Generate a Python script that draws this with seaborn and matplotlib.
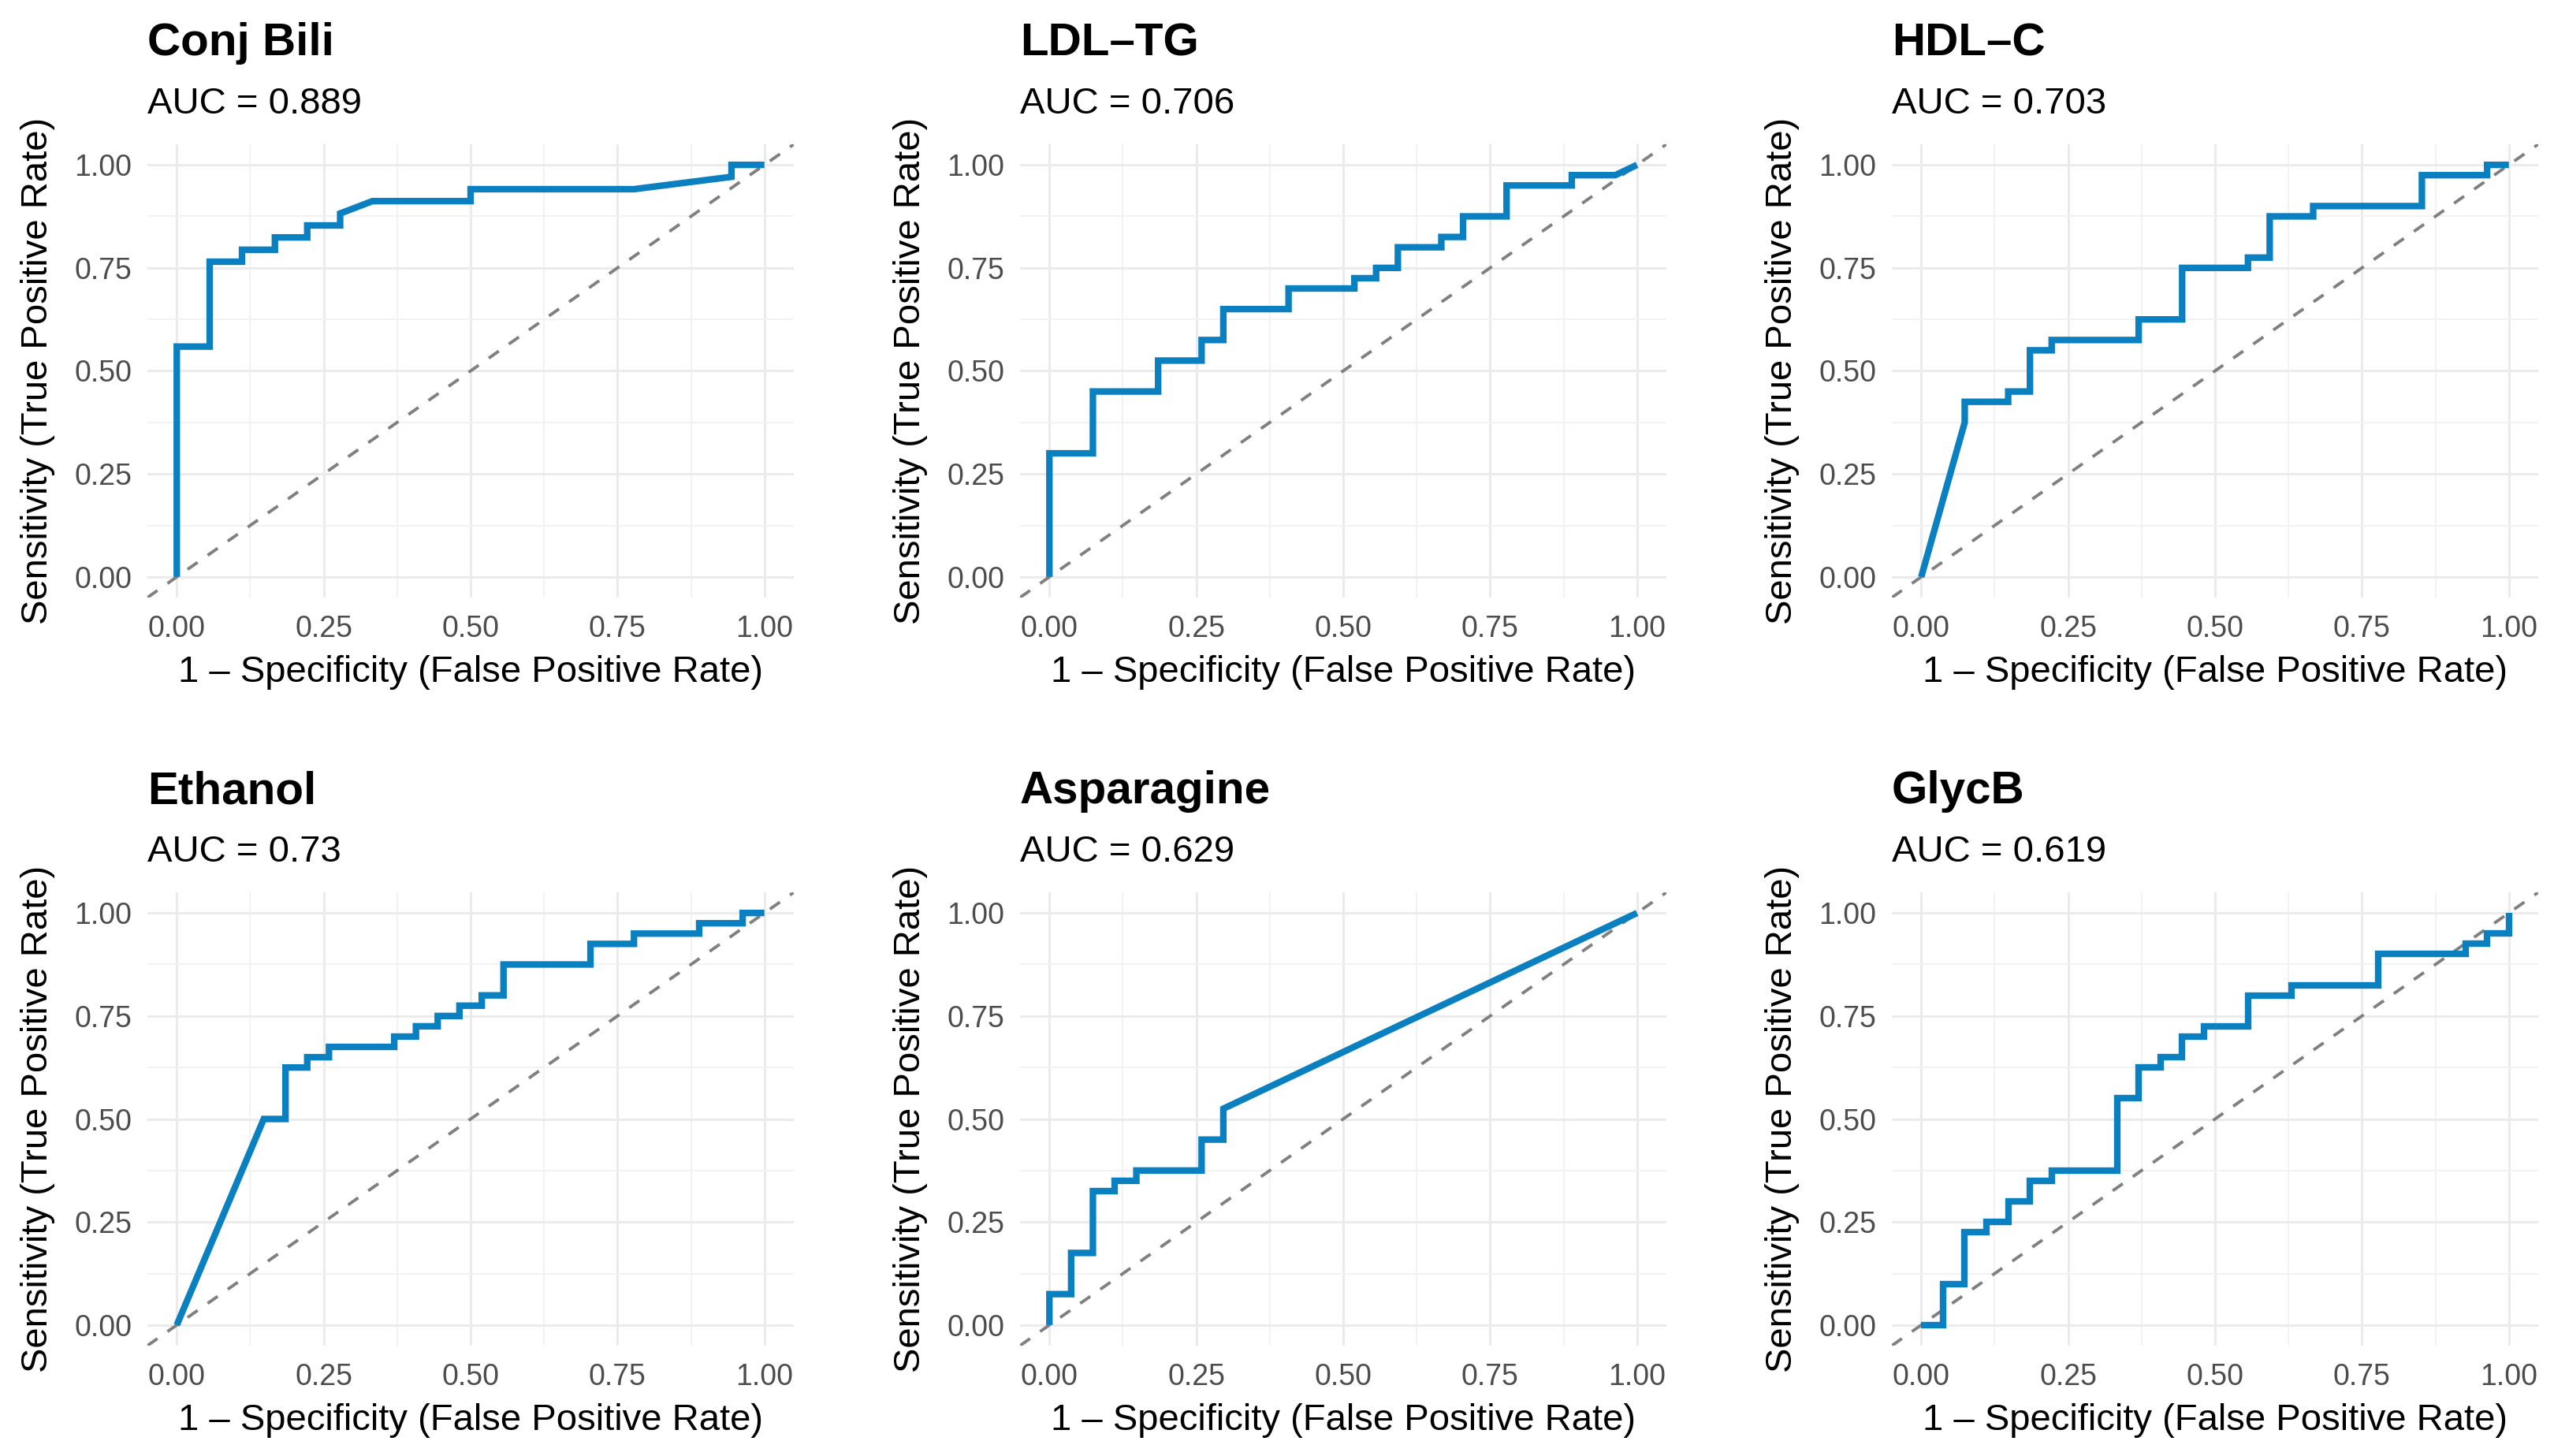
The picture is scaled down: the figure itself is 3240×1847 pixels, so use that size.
import matplotlib
matplotlib.use("Agg")
import matplotlib.pyplot as plt
import numpy as np
import pandas as pd
import seaborn as sns

# ROC curve vertices
conj_bili_fpr = [0, 0, 0.056, 0.056, 0.111, 0.111, 0.167, 0.167, 0.222, 0.222, 0.278, 0.278,
                 0.333, 0.5, 0.5, 0.778, 0.944, 0.944, 1.0]
conj_bili_tpr = [0, 0.559, 0.559, 0.765, 0.765, 0.794, 0.794, 0.824, 0.824, 0.853, 0.853, 0.882,
                 0.912, 0.912, 0.941, 0.941, 0.971, 1.0, 1.0]

ldl_tg_fpr = [0, 0, 0.074, 0.074, 0.185, 0.185, 0.259, 0.259, 0.296, 0.296, 0.407, 0.407, 0.519, 0.519,
              0.556, 0.556, 0.593, 0.593, 0.667, 0.667, 0.704, 0.704, 0.778, 0.778, 0.889, 0.889, 0.963, 1.0]
ldl_tg_tpr = [0, 0.3, 0.3, 0.45, 0.45, 0.525, 0.525, 0.575, 0.575, 0.65, 0.65, 0.7, 0.7, 0.725,
              0.725, 0.75, 0.75, 0.8, 0.8, 0.825, 0.825, 0.875, 0.875, 0.95, 0.95, 0.975, 0.975, 1.0]

hdl_c_fpr = [0, 0.074, 0.074, 0.148, 0.148, 0.185, 0.185, 0.222, 0.222, 0.370, 0.370, 0.444, 0.444,
             0.556, 0.556, 0.593, 0.593, 0.667, 0.667, 0.852, 0.852, 0.963, 0.963, 1.0]
hdl_c_tpr = [0, 0.375, 0.425, 0.425, 0.45, 0.45, 0.55, 0.55, 0.575, 0.575, 0.625, 0.625, 0.75,
             0.75, 0.775, 0.775, 0.875, 0.875, 0.9, 0.9, 0.975, 0.975, 1.0, 1.0]

ethanol_fpr = [0, 0.148, 0.185, 0.185, 0.222, 0.222, 0.259, 0.259, 0.370, 0.370, 0.407, 0.407, 0.444,
               0.444, 0.481, 0.481, 0.519, 0.519, 0.556, 0.556, 0.704, 0.704, 0.778, 0.778, 0.889,
               0.889, 0.963, 0.963, 1.0]
ethanol_tpr = [0, 0.5, 0.5, 0.625, 0.625, 0.65, 0.65, 0.675, 0.675, 0.7, 0.7, 0.725, 0.725,
               0.75, 0.75, 0.775, 0.775, 0.8, 0.8, 0.875, 0.875, 0.925, 0.925, 0.95, 0.95,
               0.975, 0.975, 1.0, 1.0]

asparagine_fpr = [0, 0, 0.037, 0.037, 0.074, 0.074, 0.111, 0.111, 0.148, 0.148, 0.259, 0.259,
                  0.296, 0.296, 1.0]
asparagine_tpr = [0, 0.075, 0.075, 0.175, 0.175, 0.325, 0.325, 0.35, 0.35, 0.375, 0.375, 0.45,
                  0.45, 0.525, 1.0]

glycb_fpr = [0, 0.037, 0.037, 0.074, 0.074, 0.111, 0.111, 0.148, 0.148, 0.185, 0.185, 0.222, 0.222,
             0.333, 0.333, 0.370, 0.370, 0.407, 0.407, 0.444, 0.444, 0.481, 0.481, 0.556, 0.556,
             0.630, 0.630, 0.778, 0.778, 0.926, 0.926, 0.963, 0.963, 1.0, 1.0]
glycb_tpr = [0, 0, 0.1, 0.1, 0.225, 0.225, 0.25, 0.25, 0.3, 0.3, 0.35, 0.35, 0.375,
             0.375, 0.55, 0.55, 0.625, 0.625, 0.65, 0.65, 0.7, 0.7, 0.725, 0.725, 0.8,
             0.8, 0.825, 0.825, 0.9, 0.9, 0.925, 0.925, 0.95, 0.95, 1.0]

markers = ["Conj Bili", "LDL–TG", "HDL–C", "Ethanol", "Asparagine", "GlycB"]
auc_labels = ["0.889", "0.706", "0.703", "0.73", "0.629", "0.619"]
fpr_list = [conj_bili_fpr, ldl_tg_fpr, hdl_c_fpr, ethanol_fpr, asparagine_fpr, glycb_fpr]
tpr_list = [conj_bili_tpr, ldl_tg_tpr, hdl_c_tpr, ethanol_tpr, asparagine_tpr, glycb_tpr]
ticks = [0.0, 0.25, 0.5, 0.75, 1.0]
tick_labels = ["0.00", "0.25", "0.50", "0.75", "1.00"]

sns.set_style("white")
plt.rcParams["font.family"] = ["Liberation Sans", "DejaVu Sans"]

W, H = 3240, 1847
fig = plt.figure(figsize=(16.2, 9.235), dpi=200)

# axes boxes in pixels: (left, top, width, height)
lefts = [187, 1294, 2400]
tops = [183, 1132]
aw, ah = 820, 575

line_color = "#0A80C0"

for i, name in enumerate(markers):
    r, c = divmod(i, 3)
    l, t = lefts[c], tops[r]
    ax = fig.add_axes([l / W, 1 - (t + ah) / H, aw / W, ah / H])

    df = pd.DataFrame({"fpr": fpr_list[i], "tpr": tpr_list[i]})
    ax.axline((0, 0), (1, 1), color="#808080", lw=1.4, ls=(0, (4, 4)), zorder=2)
    sns.lineplot(data=df, x="fpr", y="tpr", sort=False, estimator=None, color=line_color,
                 linewidth=3.0, ax=ax, zorder=3)
    ax.lines[-1].set_solid_joinstyle("miter")
    ax.lines[-1].set_solid_capstyle("butt")

    ax.set_xlim(-0.05, 1.05)
    ax.set_ylim(-0.05, 1.05)
    ax.set_xticks(ticks)
    ax.set_xticklabels(tick_labels)
    ax.set_yticks(ticks)
    ax.set_yticklabels(tick_labels)
    ax.set_xticks(np.arange(0.125, 1.0, 0.25), minor=True)
    ax.set_yticks(np.arange(0.125, 1.0, 0.25), minor=True)
    ax.grid(which="major", color="#EBEBEB", lw=1.1)
    ax.grid(which="minor", color="#F2F2F2", lw=0.7)
    ax.set_axisbelow(True)
    for s in ax.spines.values():
        s.set_visible(False)
    ax.tick_params(which="both", length=0)
    ax.tick_params(axis="x", pad=8, labelsize=13.5, labelcolor="#4D4D4D")
    ax.tick_params(axis="y", pad=7, labelsize=13.5, labelcolor="#4D4D4D")

    ax.set_xlabel("1 – Specificity (False Positive Rate)", fontsize=17, va="center", color="black")
    ax.set_ylabel("Sensitivity (True Positive Rate)", fontsize=17, va="center", color="black")
    ax.xaxis.set_label_coords(0.5, -95 / ah)
    ax.yaxis.set_label_coords(-139 / aw, 0.5)

    ax.annotate(name, xy=(0, 1), xycoords="axes fraction", xytext=(0, 46),
                textcoords="offset points", ha="left", va="center",
                fontsize=21, fontweight="bold", color="black")
    ax.annotate(f"AUC = {auc_labels[i]}", xy=(0, 1), xycoords="axes fraction",
                xytext=(0, 18.5), textcoords="offset points", ha="left", va="center",
                fontsize=17, color="black")

fig.savefig("out.png", dpi=200, facecolor="white")
